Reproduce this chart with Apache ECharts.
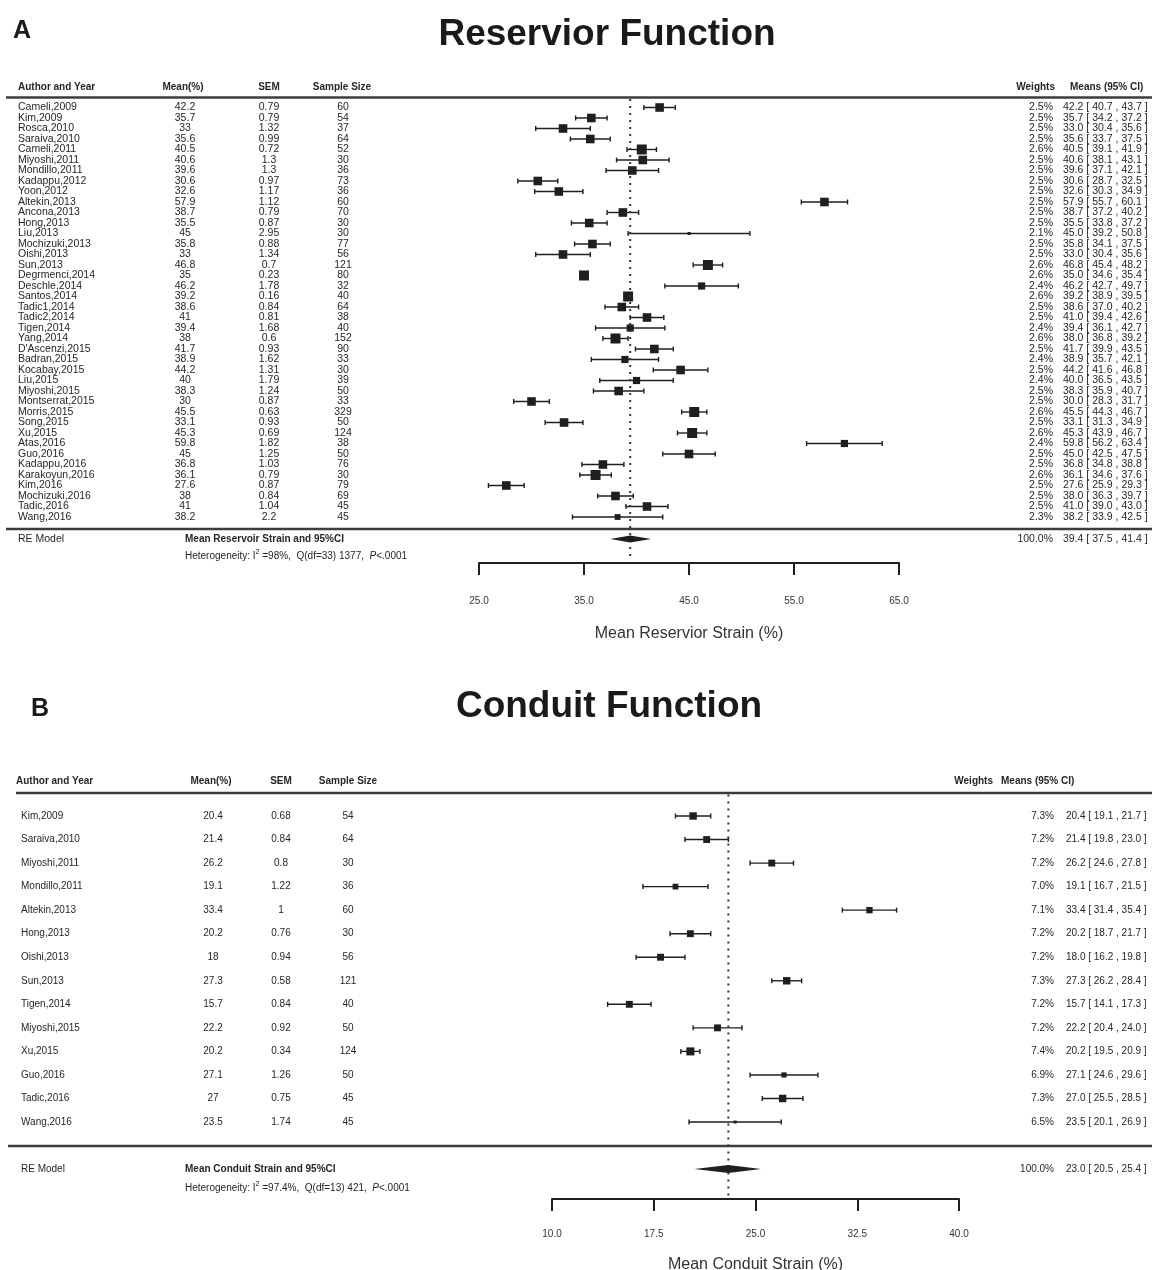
<!DOCTYPE html>
<html>
<head>
<meta charset="utf-8">
<script src="https://cdn.jsdelivr.net/npm/echarts@6/dist/echarts.min.js"></script>
<style>
  html, body { margin: 0; padding: 0; background: #fff; }
  #chart { width: 1152px; height: 1270px; }
</style>
</head>
<body>
<div id="chart"></div>
<script>
// ---------- Reservoir function (panel A) ----------
const resNames = ['Cameli,2009', 'Kim,2009', 'Rosca,2010', 'Saraiva,2010', 'Cameli,2011', 'Miyoshi,2011',
  'Mondillo,2011', 'Kadappu,2012', 'Yoon,2012', 'Altekin,2013', 'Ancona,2013', 'Hong,2013', 'Liu,2013',
  'Mochizuki,2013', 'Oishi,2013', 'Sun,2013', 'Degrmenci,2014', 'Deschle,2014', 'Santos,2014', 'Tadic1,2014',
  'Tadic2,2014', 'Tigen,2014', 'Yang,2014', "D'Ascenzi,2015", 'Badran,2015', 'Kocabay,2015', 'Liu,2015',
  'Miyoshi,2015', 'Montserrat,2015', 'Morris,2015', 'Song,2015', 'Xu,2015', 'Atas,2016', 'Guo,2016',
  'Kadappu,2016', 'Karakoyun,2016', 'Kim,2016', 'Mochizuki,2016', 'Tadic,2016', 'Wang,2016'];
const resMean = [42.2, 35.7, 33, 35.6, 40.5, 40.6, 39.6, 30.6, 32.6, 57.9, 38.7, 35.5, 45, 35.8, 33, 46.8, 35,
  46.2, 39.2, 38.6, 41, 39.4, 38, 41.7, 38.9, 44.2, 40, 38.3, 30, 45.5, 33.1, 45.3, 59.8, 45, 36.8, 36.1, 27.6,
  38, 41, 38.2];
const resSEM = [0.79, 0.79, 1.32, 0.99, 0.72, 1.3, 1.3, 0.97, 1.17, 1.12, 0.79, 0.87, 2.95, 0.88, 1.34, 0.7,
  0.23, 1.78, 0.16, 0.84, 0.81, 1.68, 0.6, 0.93, 1.62, 1.31, 1.79, 1.24, 0.87, 0.63, 0.93, 0.69, 1.82, 1.25,
  1.03, 0.79, 0.87, 0.84, 1.04, 2.2];
const resN = [60, 54, 37, 64, 52, 30, 36, 73, 36, 60, 70, 30, 30, 77, 56, 121, 80, 32, 40, 64, 38, 40, 152, 90,
  33, 30, 39, 50, 33, 329, 50, 124, 38, 50, 76, 30, 79, 69, 45, 45];
const resWeight = [2.5, 2.5, 2.5, 2.5, 2.6, 2.5, 2.5, 2.5, 2.5, 2.5, 2.5, 2.5, 2.1, 2.5, 2.5, 2.6, 2.6, 2.4, 2.6,
  2.5, 2.5, 2.4, 2.6, 2.5, 2.4, 2.5, 2.4, 2.5, 2.5, 2.6, 2.5, 2.6, 2.4, 2.5, 2.5, 2.6, 2.5, 2.5, 2.5, 2.3];
const resLow = [40.7, 34.2, 30.4, 33.7, 39.1, 38.1, 37.1, 28.7, 30.3, 55.7, 37.2, 33.8, 39.2, 34.1, 30.4, 45.4,
  34.6, 42.7, 38.9, 37.0, 39.4, 36.1, 36.8, 39.9, 35.7, 41.6, 36.5, 35.9, 28.3, 44.3, 31.3, 43.9, 56.2, 42.5,
  34.8, 34.6, 25.9, 36.3, 39.0, 33.9];
const resHigh = [43.7, 37.2, 35.6, 37.5, 41.9, 43.1, 42.1, 32.5, 34.9, 60.1, 40.2, 37.2, 50.8, 37.5, 35.6, 48.2,
  35.4, 49.7, 39.5, 40.2, 42.6, 42.7, 39.2, 43.5, 42.1, 46.8, 43.5, 40.7, 31.7, 46.7, 34.9, 46.7, 63.4, 47.5,
  38.8, 37.6, 29.3, 39.7, 43.0, 42.5];
const resPooled = [100.0, 39.4, 37.5, 41.4];          // weight %, mean, lower, upper
const resHet = ['98%', 33, 1377];                     // I², df, Q
const resTicks = [25, 35, 45, 55, 65];

// ---------- Conduit function (panel B) ----------
const conNames = ['Kim,2009', 'Saraiva,2010', 'Miyoshi,2011', 'Mondillo,2011', 'Altekin,2013', 'Hong,2013',
  'Oishi,2013', 'Sun,2013', 'Tigen,2014', 'Miyoshi,2015', 'Xu,2015', 'Guo,2016', 'Tadic,2016', 'Wang,2016'];
const conMean = [20.4, 21.4, 26.2, 19.1, 33.4, 20.2, 18, 27.3, 15.7, 22.2, 20.2, 27.1, 27, 23.5];
const conSEM = [0.68, 0.84, 0.8, 1.22, 1, 0.76, 0.94, 0.58, 0.84, 0.92, 0.34, 1.26, 0.75, 1.74];
const conN = [54, 64, 30, 36, 60, 30, 56, 121, 40, 50, 124, 50, 45, 45];
const conWeight = [7.3, 7.2, 7.2, 7.0, 7.1, 7.2, 7.2, 7.3, 7.2, 7.2, 7.4, 6.9, 7.3, 6.5];
const conLow = [19.1, 19.8, 24.6, 16.7, 31.4, 18.7, 16.2, 26.2, 14.1, 20.4, 19.5, 24.6, 25.5, 20.1];
const conHigh = [21.7, 23.0, 27.8, 21.5, 35.4, 21.7, 19.8, 28.4, 17.3, 24.0, 20.9, 29.6, 28.5, 26.9];
const conPooled = [100.0, 23.0, 20.5, 25.4];
const conHet = ['97.4%', 13, 421];
const conTicks = [10, 17.5, 25, 32.5, 40];

// ---------- styling ----------
const FONT = '"Liberation Sans", Arial, Helvetica, sans-serif';
const INK = '#1f1f1f';
const TXT = '#262626';
const RULE = '#3c3c3c';

const panels = [
  {
    names: resNames, mean: resMean, sem: resSEM, n: resN, weight: resWeight, low: resLow, high: resHigh,
    pooled: resPooled, het: resHet, ticks: resTicks,
    letter: 'A', title: 'Reservior Function', letterPos: [22, 31], titlePos: [607, 35], titleSize: 37,
    headY: 87, headRule: [6, 97.5], footRule: [6, 529],
    headCols: { name: 18, mean: 183, sem: 269, n: 342, weight: 1055, ci: 1070 },
    rowTop: 107.5, rowStep: 10.5, fontSize: 10.5,
    cols: { name: 18, mean: 185, sem: 269, n: 343, weight: 1053, ci: 1063 },
    reY: 539, hetY: 556, reNameX: 18, summaryX: 185,
    summaryLabel: 'Mean Reservoir Strain and 95%CI',
    axisY: 563, left: 479, width: 420, axisName: 'Mean Reservior Strain (%)', nameGap: 63, labelMargin: 33,
    sizeRange: [3, 10], capH: 2.5, diamondH: 3.5
  },
  {
    names: conNames, mean: conMean, sem: conSEM, n: conN, weight: conWeight, low: conLow, high: conHigh,
    pooled: conPooled, het: conHet, ticks: conTicks,
    letter: 'B', title: 'Conduit Function', letterPos: [40, 709], titlePos: [609, 707], titleSize: 37,
    headY: 781, headRule: [16, 793], footRule: [8, 1146],
    headCols: { name: 16, mean: 211, sem: 281, n: 348, weight: 993, ci: 1001 },
    rowTop: 816, rowStep: 23.54, fontSize: 10,
    cols: { name: 21, mean: 213, sem: 281, n: 348, weight: 1054, ci: 1066 },
    reY: 1169, hetY: 1188, reNameX: 21, summaryX: 185,
    summaryLabel: 'Mean Conduit Strain and 95%CI',
    axisY: 1199, left: 552, width: 407, axisName: 'Mean Conduit Strain (%)', nameGap: 58, labelMargin: 30,
    sizeRange: [3, 8], capH: 2.5, diamondH: 4
  }
];

function textStyle(text, size, align, vAlign, weight, extra) {
  return Object.assign({
    text: text, fill: TXT, fontSize: size, fontFamily: FONT, fontWeight: weight || 'normal',
    align: align, textAlign: align, verticalAlign: vAlign, textVerticalAlign: vAlign
  }, extra || {});
}
function ciText(m, lo, hi) {
  return m.toFixed(1) + ' [ ' + lo.toFixed(1) + ' , ' + hi.toFixed(1) + ' ]';
}

// per-study rows: whisker, end caps, weight-scaled square and the table columns
function studyRenderer(P) {
  const wMin = Math.min.apply(null, P.weight), wMax = Math.max.apply(null, P.weight);
  return function (params, api) {
    const i = params.dataIndex;
    const row = api.value(0);
    const pL = api.coord([api.value(1), row]);
    const pH = api.coord([api.value(2), row]);
    const pM = api.coord([api.value(3), row]);
    const y = pM[1];
    const t = (P.weight[i] - wMin) / (wMax - wMin);
    const s = P.sizeRange[0] + t * (P.sizeRange[1] - P.sizeRange[0]);
    const ln = { stroke: INK, lineWidth: 1.4 };
    const txt = function (x, str, align) {
      return { type: 'text', x: x, y: y, style: textStyle(str, P.fontSize, align, 'middle') };
    };
    return {
      type: 'group',
      children: [
        { type: 'line', shape: { x1: pL[0], y1: y, x2: pH[0], y2: y }, style: ln },
        { type: 'line', shape: { x1: pL[0], y1: y - P.capH, x2: pL[0], y2: y + P.capH }, style: ln },
        { type: 'line', shape: { x1: pH[0], y1: y - P.capH, x2: pH[0], y2: y + P.capH }, style: ln },
        { type: 'rect', shape: { x: pM[0] - s / 2, y: y - s / 2, width: s, height: s }, style: { fill: INK } },
        txt(P.cols.name, P.names[i], 'left'),
        txt(P.cols.mean, String(P.mean[i]), 'center'),
        txt(P.cols.sem, String(P.sem[i]), 'center'),
        txt(P.cols.n, String(P.n[i]), 'center'),
        txt(P.cols.weight, P.weight[i].toFixed(1) + '%', 'right'),
        txt(P.cols.ci, ciText(P.mean[i], P.low[i], P.high[i]), 'left')
      ]
    };
  };
}

// pooled estimate: diamond, dotted reference line, summary columns
function pooledRenderer(P) {
  return function (params, api) {
    const row = api.value(0);
    const pL = api.coord([api.value(2), row]);
    const pH = api.coord([api.value(3), row]);
    const pM = api.coord([api.value(1), row]);
    const y = pM[1];
    const cs = params.coordSys;
    const h = P.diamondH;
    return {
      type: 'group',
      children: [
        { type: 'line', shape: { x1: pM[0], y1: cs.y + 2, x2: pM[0], y2: cs.y + cs.height - 2 },
          style: { stroke: '#333', lineWidth: 2, lineDash: [2, 5] } },
        { type: 'polygon', shape: { points: [[pL[0], y], [pM[0], y - h], [pH[0], y], [pM[0], y + h]] },
          style: { fill: INK } },
        { type: 'text', x: P.cols.weight, y: y,
          style: textStyle(api.value(4).toFixed(1) + '%', P.fontSize, 'right', 'middle') },
        { type: 'text', x: P.cols.ci, y: y,
          style: textStyle(ciText(api.value(1), api.value(2), api.value(3)), P.fontSize, 'left', 'middle') }
      ]
    };
  };
}

const grids = [], xAxes = [], yAxes = [], series = [], graphics = [];
panels.forEach(function (P, k) {
  const top = P.rowTop - P.rowStep;
  const height = P.axisY - top;
  const yMax = -1 + height / P.rowStep;
  grids.push({ left: P.left, width: P.width, top: top, height: height, containLabel: false, outerBoundsMode: 'none' });
  xAxes.push({
    gridIndex: k, type: 'value', min: P.ticks[0], max: P.ticks[P.ticks.length - 1], position: 'bottom',
    axisLine: { show: true, onZero: false, lineStyle: { color: INK, width: 2 } },
    axisTick: { show: true, inside: false, length: 12, customValues: P.ticks, lineStyle: { color: INK, width: 2 } },
    axisLabel: { customValues: P.ticks, margin: P.labelMargin, fontSize: 10, fontFamily: FONT, color: '#333',
      formatter: function (v) { return v.toFixed(1); } },
    splitLine: { show: false },
    name: P.axisName, nameLocation: 'middle', nameGap: P.nameGap,
    nameTextStyle: { fontSize: 16, fontFamily: FONT, color: '#333' }
  });
  yAxes.push({ gridIndex: k, type: 'value', min: -1, max: yMax, inverse: true, show: false });

  series.push({
    type: 'custom', xAxisIndex: k, yAxisIndex: k, silent: true, clip: false,
    renderItem: studyRenderer(P),
    data: P.names.map(function (_, i) { return [i, P.low[i], P.high[i], P.mean[i]]; })
  });
  const reRow = (P.reY - P.rowTop) / P.rowStep;
  series.push({
    type: 'custom', xAxisIndex: k, yAxisIndex: k, silent: true, clip: false,
    renderItem: pooledRenderer(P),
    data: [[reRow, P.pooled[1], P.pooled[2], P.pooled[3], P.pooled[0]]]
  });

  // titles, column headers, rules and summary captions
  graphics.push(
    { type: 'text', x: P.letterPos[0], y: P.letterPos[1],
      style: textStyle(P.letter, 25, 'center', 'middle', 'bold', { fill: '#1a1a1a' }) },
    { type: 'text', x: P.titlePos[0], y: P.titlePos[1],
      style: textStyle(P.title, P.titleSize, 'center', 'middle', 'bold', { fill: '#1a1a1a' }) },
    { type: 'text', x: P.headCols.name, y: P.headY, style: textStyle('Author and Year', 10, 'left', 'middle', 'bold') },
    { type: 'text', x: P.headCols.mean, y: P.headY, style: textStyle('Mean(%)', 10, 'center', 'middle', 'bold') },
    { type: 'text', x: P.headCols.sem, y: P.headY, style: textStyle('SEM', 10, 'center', 'middle', 'bold') },
    { type: 'text', x: P.headCols.n, y: P.headY, style: textStyle('Sample Size', 10, 'center', 'middle', 'bold') },
    { type: 'text', x: P.headCols.weight, y: P.headY, style: textStyle('Weights', 10, 'right', 'middle', 'bold') },
    { type: 'text', x: P.headCols.ci, y: P.headY, style: textStyle('Means (95% CI)', 10, 'left', 'middle', 'bold') },
    { type: 'line', shape: { x1: P.headRule[0], y1: P.headRule[1], x2: 1152, y2: P.headRule[1] },
      style: { stroke: RULE, lineWidth: 2.5 } },
    { type: 'line', shape: { x1: P.footRule[0], y1: P.footRule[1], x2: 1152, y2: P.footRule[1] },
      style: { stroke: RULE, lineWidth: 2.5 } },
    { type: 'text', x: P.reNameX, y: P.reY, style: textStyle('RE Model', P.fontSize, 'left', 'middle') },
    { type: 'text', x: P.summaryX, y: P.reY, style: textStyle(P.summaryLabel, 10, 'left', 'middle', 'bold') },
    { type: 'text', x: P.summaryX, y: P.hetY,
      style: textStyle('Heterogeneity: I{sup|2} =' + P.het[0] + ',  Q(df=' + P.het[1] + ') ' + P.het[2] + ',  {it|P}<.0001',
        10, 'left', 'middle', 'normal', {
          rich: {
            sup: { fontSize: 7, fontFamily: FONT, fill: TXT, padding: [0, 0, 8, 0] },
            it: { fontSize: 10, fontFamily: FONT, fontStyle: 'italic', fill: TXT }
          }
        }) }
  );
});

const chart = echarts.init(document.getElementById('chart'), null, { renderer: 'canvas' });
chart.setOption({
  animation: false,
  backgroundColor: '#ffffff',
  grid: grids,
  xAxis: xAxes,
  yAxis: yAxes,
  series: series,
  graphic: { elements: graphics }
});
</script>
</body>
</html>
